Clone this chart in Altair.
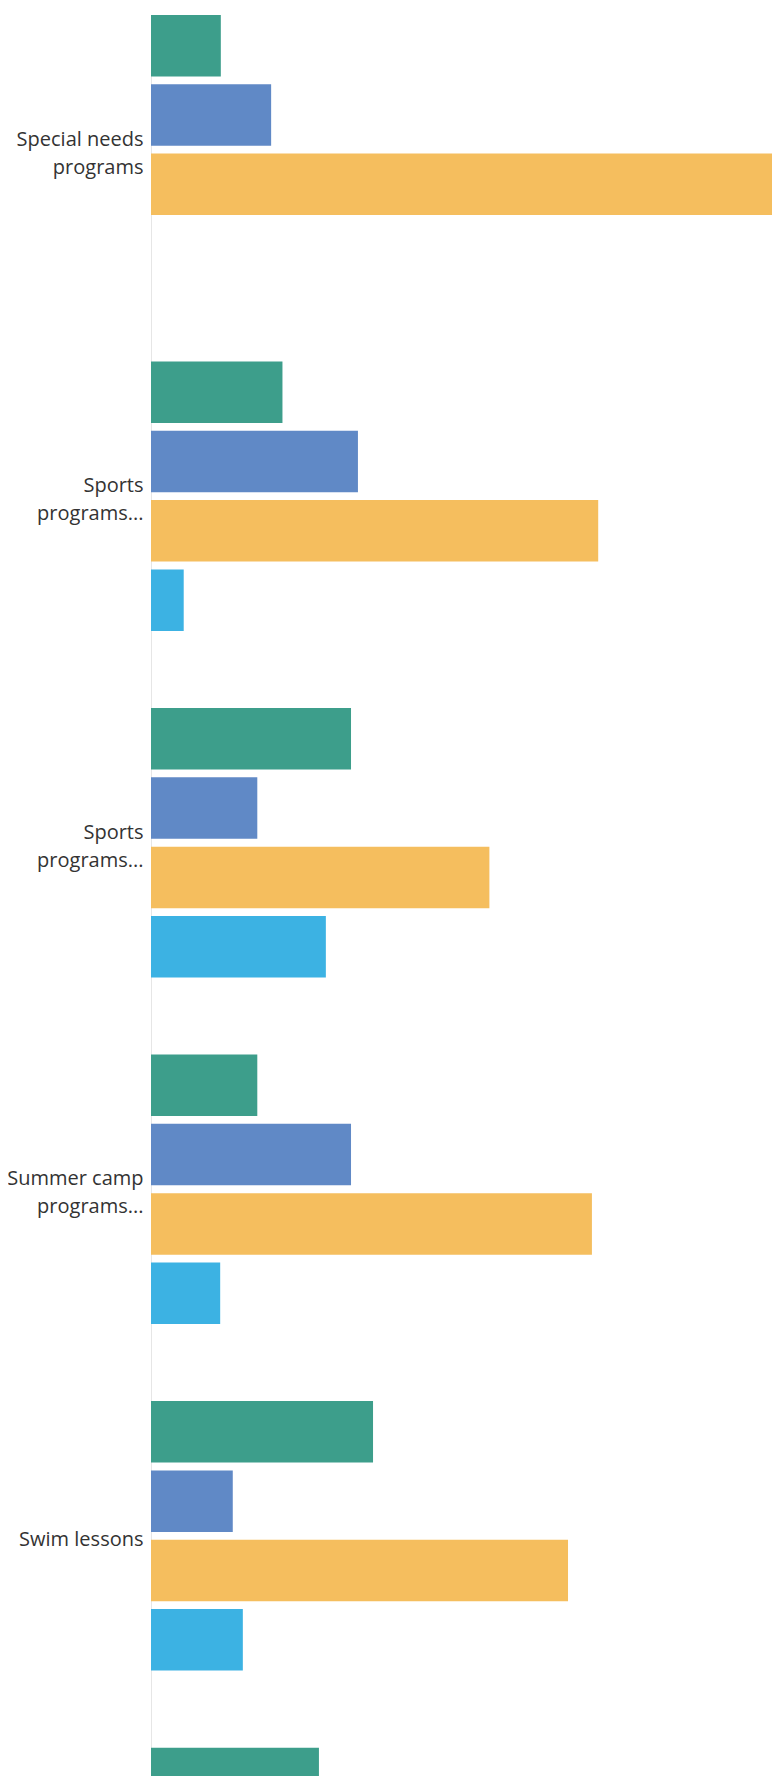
import json
import altair as alt
import pandas as pd

# Category labels (multi-line as shown on the axis); the sixth group's label lies below the visible area
label_lines = [
    ["Special needs", "programs"],
    ["Sports", "programs..."],
    ["Sports", "programs..."],
    ["Summer camp", "programs..."],
    ["Swim lessons"],
    [""],
]
cat_ids = [str(i) for i in range(len(label_lines))]

series = ["Series A", "Series B", "Series C", "Series D"]
colors = ["#3d9e8b", "#6089c6", "#f5be5e", "#3cb2e3"]

green = [11.1, 20.9, 31.8, 16.9, 35.3, 26.7]
blue = [19.1, 32.9, 16.9, 31.8, 13.0, None]
yellow = [100.0, 71.1, 53.8, 70.1, 66.3, None]
lightblue = [None, 5.2, 27.8, 11.0, 14.6, None]

rows = []
for s, vals in zip(series, [green, blue, yellow, lightblue]):
    for cid, v in zip(cat_ids, vals):
        if v is not None:
            rows.append({"cat": cid, "series": s, "value": v})
df = pd.DataFrame(rows)

label_expr = json.dumps(label_lines) + "[toNumber(datum.value)]"
single_line = [i for i, l in enumerate(label_lines) if len(l) == 1]
single_test = "indexof(" + json.dumps(single_line) + ", toNumber(datum.value)) >= 0"

chart = (
    alt.Chart(df)
    .mark_bar(clip=True)
    .encode(
        y=alt.Y(
            "cat:N",
            sort=cat_ids,
            scale=alt.Scale(paddingInner=0.2227, paddingOuter=0, range=[0, 2002]),
            axis=alt.Axis(
                title=None,
                ticks=False,
                labelPadding=8,
                labelFont="Open Sans",
                labelFontSize=20,
                labelColor="#333333",
                labelLineHeight=28,
                labelBaseline="middle",
                labelOffset={"condition": {"test": single_test, "value": 4}, "value": -10},
                labelExpr=label_expr,
                labelOverlap=False,
                labelLimit=300,
                domainColor="#e6e6e6",
                domainWidth=1,
            ),
        ),
        yOffset=alt.YOffset(
            "series:N",
            sort=series,
            scale=alt.Scale(paddingInner=0.1125, paddingOuter=0),
        ),
        x=alt.X("value:Q", scale=alt.Scale(domain=[0, 98.73]), axis=None),
        color=alt.Color(
            "series:N",
            sort=series,
            scale=alt.Scale(domain=series, range=colors),
            legend=None,
        ),
    )
    .properties(
        width=621,
        height=1761,
        autosize=alt.AutoSizeParams(type="none"),
        padding={"left": 143, "top": 7, "right": 0, "bottom": 0},
    )
    .configure_view(stroke=None)
)

chart.save("out.html", embed_options={"renderer": "svg", "actions": False})
